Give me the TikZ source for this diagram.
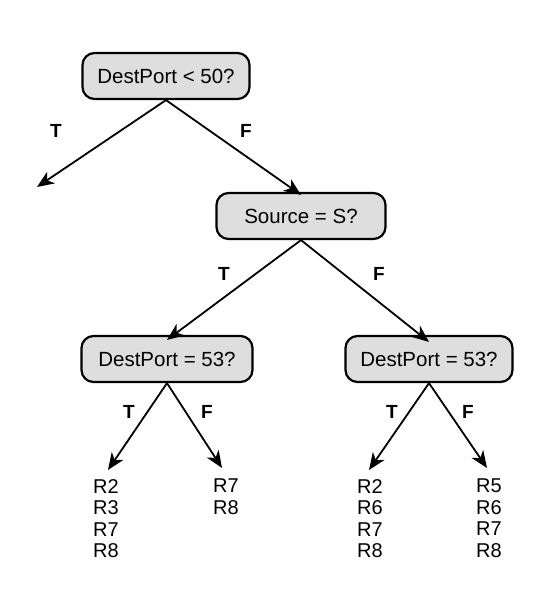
\documentclass[tikz,border=0pt]{standalone}
\usepackage{fontspec}
\setmainfont{Liberation Sans}
\usetikzlibrary{arrows.meta}
\begin{document}
\begin{tikzpicture}[x=1pt,y=-1pt,
  test/.style={draw=black,line width=2.2pt,fill=black!13,rounded corners=12pt,
    minimum width=#1,minimum height=46pt,inner sep=0pt,font=\fontsize{20.5}{24}\selectfont},
  test/.default=167pt,
  edge/.style={line width=1.8pt,-{Stealth[length=17pt,width=14pt,inset=5pt]}},
  lab/.style={font=\bfseries\fontsize{19}{22}\selectfont,inner sep=0pt},
  leaf/.style={anchor=north west,align=left,inner sep=0pt,font=\fontsize{20}{21.5}\selectfont}]
\useasboundingbox (0,0) rectangle (552,602);
\node[test] (n1) at (166,76) {DestPort < 50?};
\node[test=169pt] (n2) at (301,216) {Source = S?};
\node[test=171pt] (n3) at (167,359) {DestPort = 53?};
\node[test=167pt] (n4) at (429,359) {DestPort = 53?};
\coordinate (t1) at (37,187);
\coordinate (t3) at (108,470);
\coordinate (f3) at (222,468);
\coordinate (t4) at (369,470);
\coordinate (f4) at (487,468);
\node[leaf] (l1) at (93,479) {R2\\R3\\R7\\R8};
\node[leaf] (l2) at (213,479) {R7\\R8};
\node[leaf] (l3) at (357,479) {R2\\R6\\R7\\R8};
\node[leaf] (l4) at (476,479) {R5\\R6\\R7\\R8};
\draw[edge] (n1.south) -- ([yshift=-3pt]n2.north);
\draw[edge] (n1.south) -- (t1);
\draw[edge] (n2.south) -- ([yshift=-5pt]n3.north);
\draw[edge] (n2.south) -- ([yshift=-7pt]n4.north);
\draw[edge] (n3.south) -- (t3);
\draw[edge] (n3.south) -- (f3);
\draw[edge] (n4.south) -- (t4);
\draw[edge] (n4.south) -- (f4);
\node[lab] (a1) at (56,131) {T};
\node[lab] (a2) at (246,131) {F};
\node[lab] (a3) at (224,274) {T};
\node[lab] (a4) at (379,274) {F};
\node[lab] (a5) at (129,412) {T};
\node[lab] (a6) at (207,412) {F};
\node[lab] (a7) at (392,412) {T};
\node[lab] (a8) at (468,412) {F};
\end{tikzpicture}
\end{document}
